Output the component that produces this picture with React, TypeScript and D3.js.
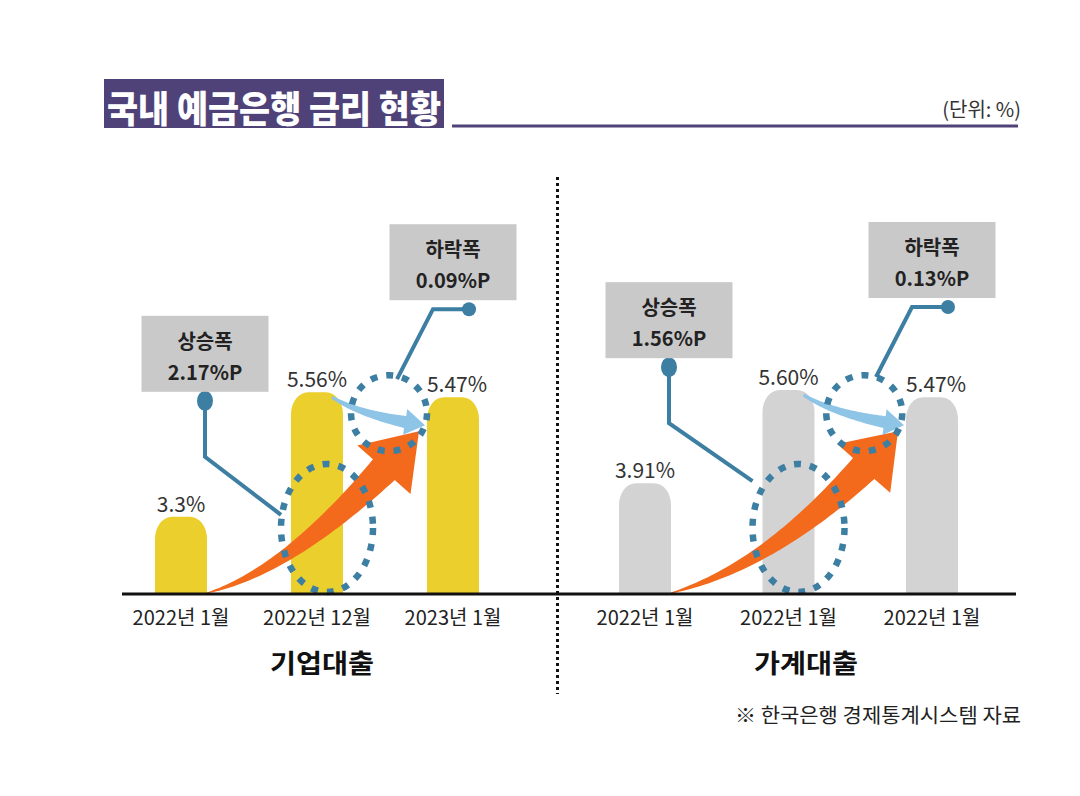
import React from 'react';
import * as d3 from 'd3';

// ---------- data ----------
const corpCategories = ['2022년 1월', '2022년 12월', '2023년 1월'];
const corpRates = [3.3, 5.56, 5.47];
const corpValueLabels = ['3.3%', '5.56%', '5.47%'];

const houseCategories = ['2022년 1월', '2022년 1월', '2022년 1월'];
const houseRates = [3.91, 5.6, 5.47];
const houseValueLabels = ['3.91%', '5.60%', '5.47%'];

const panelTitles = ['기업대출', '가계대출'];
const riseTitle = '상승폭';
const fallTitle = '하락폭';
const riseValues = ['2.17%P', '1.56%P'];
const fallValues = ['0.09%P', '0.13%P'];

const chartTitle = '국내 예금은행 금리 현황';
const unitText = '(단위: %)';
const sourceText = '※ 한국은행 경제통계시스템 자료';

// ---------- layout ----------
const W = 1080;
const H = 796;
const BASE = 594;
const BAR_W = 52;
const FONT = "'Noto Sans CJK KR', 'Noto Sans', sans-serif";

const yScale = d3.scaleLinear().domain([1.9, 5.6]).range([BASE, 390]);

const panels = [
  {
    cats: corpCategories, rates: corpRates, labels: corpValueLabels,
    title: panelTitles[0], rise: riseValues[0], fall: fallValues[0],
    xRange: [181, 453], titleX: 322, fill: '#ebcf2d',
  },
  {
    cats: houseCategories, rates: houseRates, labels: houseValueLabels,
    title: panelTitles[1], rise: riseValues[1], fall: fallValues[1],
    xRange: [645, 932], titleX: 806, fill: '#d3d3d3',
  },
];

type Pt = [number, number];

function barPath(x0: number, x1: number, top: number, base: number) {
  const rx = 17;
  const ry = 22;
  return `M${x0},${base}V${top + ry}A${rx},${ry} 0 0 1 ${x0 + rx},${top}H${x1 - rx}A${rx},${ry} 0 0 1 ${x1},${top + ry}V${base}Z`;
}

function dirOf(deg: number): Pt {
  const r = (deg * Math.PI) / 180;
  return [Math.cos(r), Math.sin(r)];
}

function taperArrow(T: Pt, P: Pt, dT: Pt, dP: Pt, w0: number, w1: number, headLen: number, headHalf: number) {
  const Rx = P[0] - T[0];
  const Ry = P[1] - T[1];
  const det = dT[0] * dP[1] - dP[0] * dT[1];
  const k = (Rx * dP[1] - dP[0] * Ry) / det;
  const C: Pt = [T[0] + k * dT[0], T[1] + k * dT[1]];
  const n = 60;
  const pts: Pt[] = [];
  const tans: Pt[] = [];
  for (let i = 0; i <= n; i++) {
    const t = i / n;
    const a = (1 - t) * (1 - t), b = 2 * (1 - t) * t, c = t * t;
    pts.push([a * T[0] + b * C[0] + c * P[0], a * T[1] + b * C[1] + c * P[1]]);
    const tx = 2 * (1 - t) * (C[0] - T[0]) + 2 * t * (P[0] - C[0]);
    const ty = 2 * (1 - t) * (C[1] - T[1]) + 2 * t * (P[1] - C[1]);
    const L = Math.hypot(tx, ty) || 1;
    tans.push([tx / L, ty / L]);
  }
  const cum: number[] = [0];
  for (let i = 1; i <= n; i++) cum.push(cum[i - 1] + Math.hypot(pts[i][0] - pts[i - 1][0], pts[i][1] - pts[i - 1][1]));
  const total = cum[n];
  let j = n;
  while (j > 0 && total - cum[j] < headLen) j--;
  const left: Pt[] = [];
  const right: Pt[] = [];
  for (let i = 0; i <= j; i++) {
    const w = w0 + (w1 - w0) * (cum[i] / cum[j]);
    const nx = -tans[i][1], ny = tans[i][0];
    left.push([pts[i][0] + (nx * w) / 2, pts[i][1] + (ny * w) / 2]);
    right.push([pts[i][0] - (nx * w) / 2, pts[i][1] - (ny * w) / 2]);
  }
  const B = pts[j];
  const hd: Pt = [P[0] - B[0], P[1] - B[1]];
  const hl = Math.hypot(hd[0], hd[1]) || 1;
  const nx = -hd[1] / hl, ny = hd[0] / hl;
  const barbL: Pt = [B[0] + nx * headHalf, B[1] + ny * headHalf];
  const barbR: Pt = [B[0] - nx * headHalf, B[1] - ny * headHalf];
  const poly = [...left, barbL, P, barbR, ...right.reverse()];
  return 'M' + poly.map((p) => `${p[0].toFixed(1)},${p[1].toFixed(1)}`).join('L') + 'Z';
}

const BLUE = '#3d7ea3';

function Panel({ p }: { p: typeof panels[number] }) {
  const x = d3.scalePoint<number>().domain(p.rates.map((_, i) => i)).range(p.xRange as [number, number]);
  const cx = p.rates.map((_, i) => x(i) as number);
  const ty = p.rates.map((v) => yScale(v));

  // orange rising arrow
  const orange = taperArrow(
    [cx[0] + BAR_W / 2, BASE - 1],
    [cx[2] - BAR_W / 2 - 8, ty[2] + 34],
    dirOf(-15), dirOf(-49), 1, 30, 48, 36,
  );
  // light blue falling arrow
  const light = taperArrow(
    [cx[1] + 15, ty[1] + 5],
    [cx[2] - BAR_W / 2 - 2, ty[2] + 28],
    dirOf(32), dirOf(8), 3, 12, 19, 13,
  );

  // rise annotation
  const bx = cx[0] + 24;
  const bb = ty[0] - 125;
  const boxW = 127;
  const boxH = 76;
  // fall annotation
  const fx = cx[2];
  const fb = ty[1] - 92;

  return (
    <g>
      {p.rates.map((v, i) => (
        <path key={'b' + i} d={barPath(cx[i] - BAR_W / 2, cx[i] + BAR_W / 2, yScale(v), BASE)} fill={p.fill} />
      ))}
      {p.labels.map((l, i) => (
        <text key={'v' + i} x={cx[i] + (i === 2 ? 4 : 0)} y={ty[i] - 5} textAnchor="middle" fontSize={21} fill="#333" fontFamily={FONT}>{l}</text>
      ))}
      <path d={orange} fill="#f36a1c" />
      <path d={light} fill="#8ec5e6" />
      <ellipse cx={cx[1] + 10} cy={BASE - 66} rx={46} ry={64} fill="none" stroke={BLUE} strokeWidth={6.5} strokeDasharray="7 9" />
      <ellipse cx={(cx[1] + cx[2]) / 2 + 4} cy={ty[2] + 16} rx={38} ry={38} fill="none" stroke={BLUE} strokeWidth={6.5} strokeDasharray="7 9" />

      {/* rise connector */}
      <polyline points={`${bx},${bb + 10} ${bx},${bb + 65} ${cx[1] - 36},${bb + 123}`} fill="none" stroke={BLUE} strokeWidth={4} />
      <ellipse cx={bx} cy={bb + 9} rx={8} ry={10} fill={BLUE} />
      <rect x={bx - boxW / 2} y={bb - boxH} width={boxW} height={boxH} fill="#c9c9c9" />
      <text x={bx} y={bb - boxH + 33} textAnchor="middle" fontSize={20} fontWeight={700} fill="#222" fontFamily={FONT}>{riseTitle}</text>
      <text x={bx} y={bb - boxH + 64} textAnchor="middle" fontSize={20} fontWeight={700} fill="#222" fontFamily={FONT}>{p.rise}</text>

      {/* fall connector */}
      <polyline points={`${fx + 16},${fb + 9} ${fx - 20},${fb + 9} ${fx - 56},${fb + 79}`} fill="none" stroke={BLUE} strokeWidth={4} />
      <circle cx={fx + 16} cy={fb + 9} r={7} fill={BLUE} />
      <rect x={fx - boxW / 2} y={fb - boxH} width={boxW} height={boxH} fill="#c9c9c9" />
      <text x={fx} y={fb - boxH + 33} textAnchor="middle" fontSize={20} fontWeight={700} fill="#222" fontFamily={FONT}>{fallTitle}</text>
      <text x={fx} y={fb - boxH + 64} textAnchor="middle" fontSize={20} fontWeight={700} fill="#222" fontFamily={FONT}>{p.fall}</text>

      {p.cats.map((c, i) => (
        <text key={'c' + i} x={cx[i]} y={625} textAnchor="middle" fontSize={20} fill="#222" fontFamily={FONT}>{c}</text>
      ))}
      <text x={p.titleX} y={673} textAnchor="middle" fontSize={26} fontWeight={700} fill="#111" fontFamily={FONT} textLength={104} lengthAdjust="spacingAndGlyphs">{p.title}</text>
    </g>
  );
}

export default function App() {
  return (
    <svg width={W} height={H} viewBox={`0 0 ${W} ${H}`} style={{ position: 'absolute', left: 0, top: 0, background: '#fff' }}>
      <rect x={0} y={0} width={W} height={H} fill="#fff" />
      {/* title */}
      <rect x={104} y={79} width={340} height={49} fill="#4f4279" />
      <text x={107} y={123} fontSize={37} fontWeight={900} fill="#fff" fontFamily={FONT} textLength={334} lengthAdjust="spacingAndGlyphs">{chartTitle}</text>
      <line x1={452} x2={1018} y1={126} y2={126} stroke="#4f4279" strokeWidth={3} />
      <text x={1021} y={117} textAnchor="end" fontSize={20} fill="#333" fontFamily={FONT}>{unitText}</text>

      {/* divider */}
      <line x1={557.5} x2={557.5} y1={177} y2={694} stroke="#111" strokeWidth={3} strokeDasharray="3 3" />

      {panels.map((p, i) => <Panel key={i} p={p} />)}

      {/* baseline */}
      <line x1={122} x2={1016} y1={BASE} y2={BASE} stroke="#111" strokeWidth={3} />

      <text x={1021} y={723} textAnchor="end" fontSize={20} fill="#222" fontFamily={FONT} textLength={286} lengthAdjust="spacingAndGlyphs">{sourceText}</text>
    </svg>
  );
}
